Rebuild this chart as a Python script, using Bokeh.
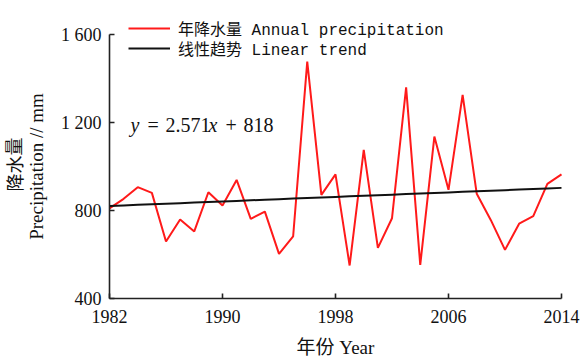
from bokeh.plotting import figure
from bokeh.models import Range1d, FixedTicker, Legend, LegendItem, Label
from bokeh.embed import file_html
from bokeh.resources import INLINE

# Annual precipitation (mm), 1982-2014
years = list(range(1982, 2015))
precip = [810, 853, 906, 880, 659, 759, 705, 883, 823, 939, 762, 795, 603, 682,
          1477, 871, 964, 550, 1076, 630, 765, 1360, 553, 1136, 894, 1326, 876,
          756, 621, 740, 774, 921, 964]

# Linear trend y = 2.571x + 818, x = year index starting at 1
slope = 2.571
intercept = 818
trend = [intercept + slope * (i + 1) for i in range(len(years))]

x_ticks = [1982, 1990, 1998, 2006, 2014]
y_ticks = [400, 800, 1200, 1600]
y_tick_text = {1600: "1 600", 1200: "1 200", 800: "800", 400: "400"}

W, H = 582, 359
# pixel box of the axes inside the page
AX_L, AX_R, AX_T, AX_B = 109, 561, 34, 298

SERIF = "'Liberation Serif', 'Noto Sans CJK SC'"
MONO = "'Liberation Mono', 'Noto Sans CJK SC'"
CJK = "'Noto Sans CJK SC'"

# The plotting frame covers the whole page, so titles and legend are never clipped;
# the axes sit at fixed data positions and only span the data extent.
px_per_year = (AX_R - AX_L) / (x_ticks[-1] - x_ticks[0])
px_per_mm = (AX_B - AX_T) / (y_ticks[-1] - y_ticks[0])
x_range = Range1d(x_ticks[0] - AX_L / px_per_year, x_ticks[-1] + (W - AX_R) / px_per_year)
y_range = Range1d(y_ticks[0] - (H - AX_B) / px_per_mm, y_ticks[-1] + AX_T / px_per_mm)

p = figure(width=W, height=H, output_backend="svg", toolbar_location=None,
           x_range=x_range, y_range=y_range, min_border=0)
p.outline_line_color = None
p.grid.grid_line_color = None
p.background_fill_color = "white"
p.border_fill_color = "white"

p.xaxis.fixed_location = y_ticks[0]
p.yaxis.fixed_location = x_ticks[0]
p.xaxis.bounds = (x_ticks[0], x_ticks[-1])
p.yaxis.bounds = (y_ticks[0], y_ticks[-1])

for ax in (p.xaxis[0], p.yaxis[0]):
    ax.axis_line_width = 1.6
    ax.axis_line_color = "#222222"
    ax.major_tick_in = 5
    ax.major_tick_out = 0
    ax.major_tick_line_width = 1.6
    ax.major_tick_line_color = "#222222"
    ax.minor_tick_line_color = None
    ax.major_label_text_font = SERIF
    ax.major_label_text_font_size = "18px"
    ax.major_label_text_color = "#111111"
    ax.major_label_standoff = 8

p.xaxis.major_label_standoff = 11
p.xaxis.ticker = FixedTicker(ticks=x_ticks)
p.yaxis.ticker = FixedTicker(ticks=y_ticks)
p.yaxis.major_label_overrides = y_tick_text

r_precip = p.line(years, precip, line_color="#ff1a1a", line_width=2)
r_trend = p.line(years, trend, line_color="#111111", line_width=2)

# One legend row per series, each placed at its own row height
ROW_H = 24
for label, renderer, row_center in (("年降水量 Annual precipitation", r_precip, 28),
                                    ("线性趋势 Linear trend", r_trend, 48)):
    p.add_layout(Legend(
        items=[LegendItem(label=label, renderers=[renderer])],
        location=(128, H - (row_center + ROW_H / 2)), padding=0, margin=0, spacing=0,
        glyph_width=42, glyph_height=ROW_H, label_height=ROW_H, label_standoff=8,
        background_fill_alpha=0, border_line_alpha=0,
        label_text_font=MONO, label_text_font_size="16px", label_text_color="#111111",
    ))

def page_label(text, x, y, **kw):
    """Text placed by page pixel position (from the top-left corner)."""
    p.add_layout(Label(x=x, y=H - y, x_units="screen", y_units="screen",
                       text=text, text_color="#111111", **kw))

# Axis titles
page_label("降水量", 13, 164, angle=1.5708, text_align="center",
           text_baseline="middle", text_font=CJK, text_font_size="18px")
page_label("Precipitation // mm", 36, 166, angle=1.5708, text_align="center",
           text_baseline="middle", text_font=SERIF, text_font_size="19px")
page_label("年份 Year", 335, 347, text_align="center", text_baseline="middle",
           text_font=SERIF, text_font_size="19px")

# Trend equation, with italic variables
eq_parts = [("y", 130, "italic"), ("=", 147, "normal"), ("2.571", 165, "normal"),
            ("x", 208, "italic"), ("+", 225, "normal"), ("818", 243, "normal")]
for txt, xs, style in eq_parts:
    page_label(txt, xs, 124, text_align="left", text_baseline="alphabetic",
               text_font=SERIF, text_font_style=style, text_font_size="20px")

open("out.html", "w").write(file_html(p, INLINE))
